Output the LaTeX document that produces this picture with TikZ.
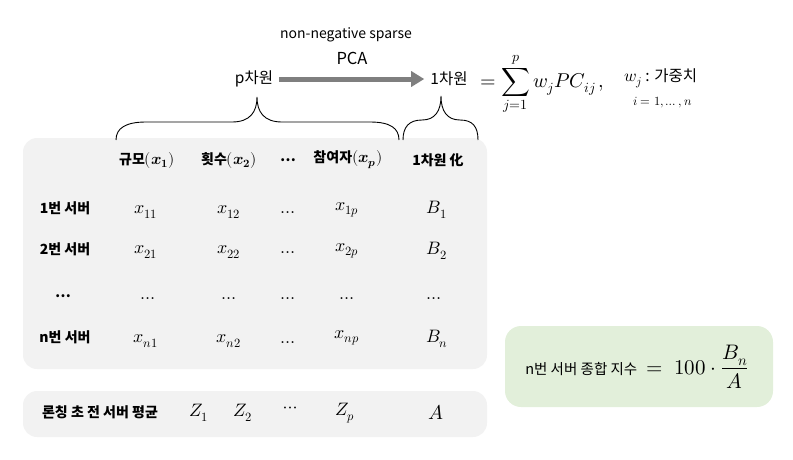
\documentclass[tikz,border=0pt]{standalone}
\usepackage{amsmath}
\usepackage{fontspec}
\usepackage{unicode-math}
\setmainfont{Noto Sans CJK KR}
\setmathfont{Latin Modern Math}
\usetikzlibrary{arrows.meta}
\definecolor{boxgray}{HTML}{F2F2F2}
\definecolor{boxgreen}{HTML}{E2EFDA}
\definecolor{arrowgray}{HTML}{7F7F7F}
\newcommand{\hm}[1]{{\fontsize{16}{18}\selectfont$#1$}}
\tikzset{
  panel/.style={fill=boxgray, draw=none, rounded corners=14pt},
  greenpanel/.style={fill=boxgreen, draw=none, rounded corners=16pt},
  hdr/.style={font=\fontsize{14}{16}\selectfont\bfseries, inner sep=0pt},
  rowlab/.style={font=\fontsize{14}{16}\selectfont\bfseries, inner sep=0pt},
  cell/.style={font=\fontsize{18}{20}\selectfont, inner sep=0pt},
  toptext/.style={font=\fontsize{15.5}{17}\selectfont, inner sep=0pt},
  bracepath/.style={draw=black, line width=0.9pt},
}
\begin{document}
\begin{tikzpicture}[x=1pt,y=-1pt]
\useasboundingbox (0,0) rectangle (793,459);
% panels
\fill[panel] (23,138) rectangle (487,369);
\fill[panel] (23,391) rectangle (487,437);
\fill[greenpanel] (505,326) rectangle (773,407);

% top line
\node[font=\fontsize{14}{16}\selectfont, inner sep=0pt] (nns) at (346,35) {non-negative sparse};
\node[font=\fontsize{16.5}{18}\selectfont, inner sep=0pt] (pca) at (352,58) {PCA};
\node[toptext] (pdim) at (254,79) {p차원};
\node[toptext] (odim) at (449,79) {1차원};
\draw[arrowgray, line width=5pt, -{Triangle[length=13pt,width=15pt]}] ([xshift=6pt]pdim.east) -- ([xshift=-6pt]odim.west);
\node[anchor=west, inner sep=0pt, font=\fontsize{20}{22}\selectfont] (sum) at (480,84) {$=\displaystyle\sum_{j=1}^{p} w_j P C_{ij}\,,$};
\node[anchor=west, inner sep=0pt, font=\fontsize{15.5}{17}\selectfont] (wj) at (624,78) {{\fontsize{17}{19}\selectfont$w_j$} : 가중치};
\node[anchor=west, inner sep=0pt, font=\fontsize{12.5}{14}\selectfont] (ir) at (633,103) {$i = 1,\ldots,n$};

% braces
\coordinate (lbL) at (116,140);
\coordinate (lbR) at (399,140);
\coordinate (lbT) at (257,97);
\draw[bracepath] (lbL) .. controls (116,128) and (126,122) .. (146,122) -- (232,122)
  .. controls (250,122) and (257,112) .. (lbT)
  .. controls (257,112) and (264,122) .. (282,122) -- (370,122)
  .. controls (390,122) and (399,128) .. (lbR);
\coordinate (rbL) at (403,140);
\coordinate (rbR) at (478,140);
\coordinate (rbT) at (441,96);
\draw[bracepath] (rbL) .. controls (403,127) and (409,120) .. (422,120)
  .. controls (435,120) and (441,111) .. (rbT)
  .. controls (441,111) and (447,120) .. (460,120)
  .. controls (473,120) and (478,127) .. (rbR);

% header
\node[hdr] (h1) at (147,160) {규모\hm{(\symbfit{x}_{\symbf{1}})}};
\node[hdr] (h2) at (229,160) {횟수\hm{(\symbfit{x}_{\symbf{2}})}};
\node[hdr] (h3) at (288,160) {…};
\node[hdr] (h4) at (348,160) {참여자\hm{(\symbfit{x}_{\symbfit{p}})}};
\node[hdr] (h5) at (438,160) {1차원 化};

% rows
\node[rowlab] (r1) at (65,208) {1번 서버};
\node[rowlab] (r2) at (65,249) {2번 서버};
\node[rowlab] (r3) at (63,296) {…};
\node[rowlab] (r4) at (65,337) {n번 서버};

\node[cell] at (146,212) {$x_{11}$};
\node[cell] at (229,212) {$x_{12}$};
\node[cell] at (288,213) {$\ldots$};
\node[cell] at (347,210) {$x_{1p}$};
\node[cell] at (437,210) {$B_1$};

\node[cell] at (146,252) {$x_{21}$};
\node[cell] at (229,252) {$x_{22}$};
\node[cell] at (288,253) {$\ldots$};
\node[cell] at (347,251) {$x_{2p}$};
\node[cell] at (437,251) {$B_2$};

\node[cell] at (148,299) {$\ldots$};
\node[cell] at (229,299) {$\ldots$};
\node[cell] at (288,299) {$\ldots$};
\node[cell] at (347,299) {$\ldots$};
\node[cell] at (434,299) {$\ldots$};

\node[cell] at (146,341) {$x_{n1}$};
\node[cell] at (229,341) {$x_{n2}$};
\node[cell] at (288,343) {$\ldots$};
\node[cell] at (347,338) {$x_{np}$};
\node[cell] at (437,339) {$B_n$};

% bottom row
\node[rowlab] (avg) at (100,412) {론칭 초 전 서버 평균};
\node[cell] at (199,413) {$Z_1$};
\node[cell] at (243,413) {$Z_2$};
\node[cell] at (290,410) {$\cdots$};
\node[cell] at (345,413) {$Z_p$};
\node[cell, font=\fontsize{20}{22}\selectfont] at (436,412) {$A$};

% green formula
\node[inner sep=0pt, font=\fontsize{14.5}{16}\selectfont] (idx) at (637,367) {n번 서버 종합 지수 {\fontsize{21}{23}\selectfont$\;=\;100\cdot\dfrac{B_n}{A}$}};
\end{tikzpicture}
\end{document}
